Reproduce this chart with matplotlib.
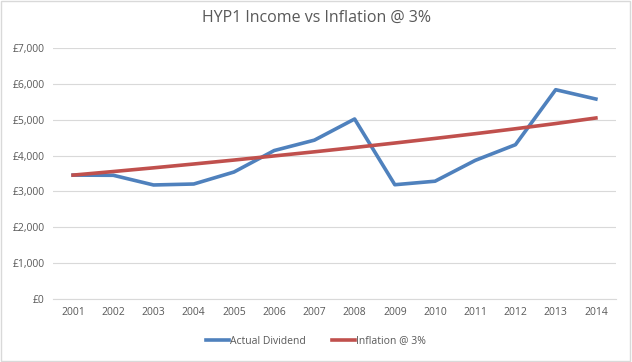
import matplotlib
matplotlib.use("Agg")
import matplotlib.pyplot as plt
from matplotlib.ticker import FuncFormatter

years = ["2001", "2002", "2003", "2004", "2005", "2006", "2007",
         "2008", "2009", "2010", "2011", "2012", "2013", "2014"]
actual_dividend = [3455, 3450, 3180, 3207, 3541, 4140, 4430,
                   5020, 3187, 3285, 3866, 4303, 5837, 5577]
inflation_3pct = [3455, 3555, 3658, 3765, 3875, 3990, 4105,
                  4225, 4350, 4478, 4610, 4748, 4893, 5048]

plt.rcParams['font.family'] = ['Open Sans', 'DejaVu Sans']

fig = plt.figure(figsize=(6.32, 3.62), dpi=100)
ax = fig.add_axes([53/632, 63/362, 563/632, 251/362])

x = list(range(len(years)))
ax.plot(x, actual_dividend, color="#4F81BD", lw=2.6, label="Actual Dividend",
        solid_joinstyle="round")
ax.plot(x, inflation_3pct, color="#C0504D", lw=2.6, label="Inflation @ 3%",
        solid_joinstyle="round")

ax.set_xlim(-0.5, len(years) - 0.5)
ax.set_ylim(0, 7000)
ax.set_yticks(range(0, 7001, 1000))
ax.yaxis.set_major_formatter(FuncFormatter(lambda v, p: "£{:,.0f}".format(v)))
ax.set_xticks(x)
ax.set_xticklabels(years)
ax.grid(axis="y", color="#D9D9D9", lw=0.8)
ax.set_axisbelow(True)
for s in ["top", "right", "left"]:
    ax.spines[s].set_visible(False)
ax.spines["bottom"].set_color("#D9D9D9")
ax.tick_params(axis="both", length=0, labelsize=7.5, colors="#595959", pad=6)

fig.text(0.5, 1 - 18/362, "HYP1 Income vs Inflation @ 3%", ha="center", va="center",
         fontsize=11.5, color="#595959")

leg = fig.legend(loc="center", bbox_to_anchor=(0.5, 1 - 341/362), ncol=2, frameon=False,
                 fontsize=7.5, handlelength=2.2, handletextpad=0.1, columnspacing=2.5)
for t in leg.get_texts():
    t.set_color("#595959")

fig.patches.append(plt.Rectangle((0.002, 0.003), 0.995, 0.994, transform=fig.transFigure,
                                 fill=False, edgecolor="#D9D9D9", lw=1))

fig.savefig("out.png", dpi=100)
